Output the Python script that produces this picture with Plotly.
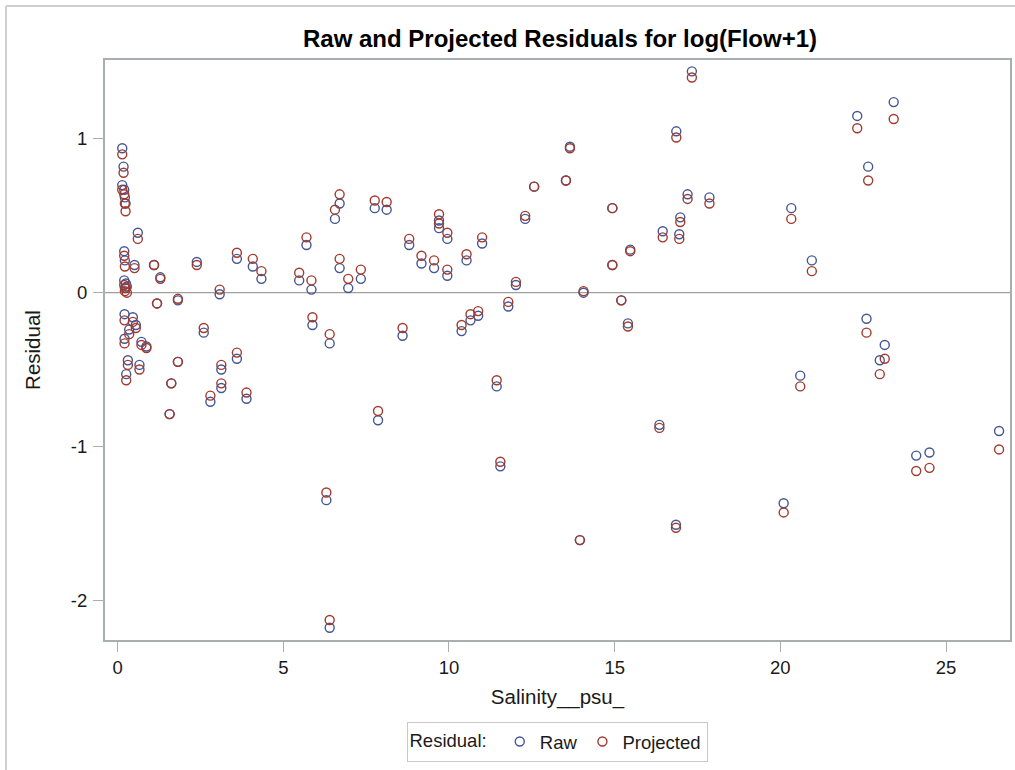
import plotly.graph_objects as go

salinity = [0.14, 0.18, 0.14, 0.20, 0.22, 0.24, 0.20, 0.22, 0.51, 0.61,
            0.20, 0.25, 0.28, 0.22, 1.10, 1.29, 2.39, 3.60, 4.08, 4.34,
            5.48, 3.08, 1.19, 1.82, 0.21, 0.46, 0.55, 0.35, 0.21, 0.72,
            0.87, 2.60, 1.82, 0.31, 0.66, 0.26, 3.13, 3.60, 1.62, 3.13,
            2.80, 3.89, 1.57,
            5.85, 5.70, 6.70, 6.56, 7.76, 8.12, 6.70, 6.96, 7.34, 5.88,
            6.40, 8.80, 9.17, 9.55, 9.70, 9.70, 9.95, 9.95, 8.60, 10.53,
            11.00, 10.38, 10.65, 10.88, 11.79, 12.02, 12.30, 11.44, 7.86, 6.30,
            6.40, 11.55, 12.57, 13.53, 13.65, 14.93, 14.93, 15.47, 14.06, 15.20,
            15.40, 13.95, 16.35, 16.85, 16.45, 16.98, 16.95, 17.20, 17.86, 17.33,
            16.86,
            20.33, 22.32, 23.42, 22.65, 20.95, 22.60, 23.15, 23.00, 20.60, 24.10,
            24.50, 26.60, 20.10]

raw = [0.94, 0.82, 0.70, 0.67, 0.62, 0.58, 0.27, 0.21, 0.18, 0.39,
       0.08, 0.06, 0.04, 0.03, 0.18, 0.10, 0.20, 0.22, 0.17, 0.09,
       0.08, -0.01, -0.07, -0.05, -0.14, -0.16, -0.21, -0.24, -0.30, -0.32,
       -0.35, -0.26, -0.45, -0.44, -0.47, -0.53, -0.50, -0.43, -0.59, -0.62,
       -0.71, -0.69, -0.79,
       0.02, 0.31, 0.58, 0.48, 0.55, 0.54, 0.16, 0.03, 0.09, -0.21,
       -0.33, 0.31, 0.19, 0.16, 0.47, 0.42, 0.35, 0.11, -0.28, 0.21,
       0.32, -0.25, -0.18, -0.15, -0.09, 0.05, 0.48, -0.61, -0.83, -1.35,
       -2.18, -1.13, 0.69, 0.73, 0.95, 0.55, 0.18, 0.28, 0.00, -0.05,
       -0.20, -1.61, -0.86, -1.51, 0.40, 0.49, 0.38, 0.64, 0.62, 1.44,
       1.05,
       0.55, 1.15, 1.24, 0.82, 0.21, -0.17, -0.34, -0.44, -0.54, -1.06,
       -1.04, -0.90, -1.37]

projected = [0.90, 0.78, 0.67, 0.64, 0.58, 0.53, 0.24, 0.17, 0.16, 0.35,
             0.05, 0.03, 0.00, 0.01, 0.18, 0.09, 0.18, 0.26, 0.22, 0.14,
             0.13, 0.02, -0.07, -0.04, -0.18, -0.19, -0.23, -0.27, -0.33, -0.34,
             -0.36, -0.23, -0.45, -0.47, -0.50, -0.57, -0.47, -0.39, -0.59, -0.59,
             -0.67, -0.65, -0.79,
             0.08, 0.36, 0.64, 0.54, 0.60, 0.59, 0.22, 0.09, 0.15, -0.16,
             -0.27, 0.35, 0.24, 0.21, 0.51, 0.45, 0.39, 0.15, -0.23, 0.25,
             0.36, -0.21, -0.14, -0.12, -0.06, 0.07, 0.50, -0.57, -0.77, -1.30,
             -2.13, -1.10, 0.69, 0.73, 0.94, 0.55, 0.18, 0.27, 0.01, -0.05,
             -0.22, -1.61, -0.88, -1.53, 0.36, 0.46, 0.35, 0.61, 0.58, 1.40,
             1.01,
             0.48, 1.07, 1.13, 0.73, 0.14, -0.26, -0.43, -0.53, -0.61, -1.16,
             -1.14, -1.02, -1.43]

x_ticks = [0, 5, 10, 15, 20, 25]
y_ticks = [-2, -1, 0, 1]

FONT = "Liberation Sans, Arial, sans-serif"
BLUE = "#445694"
RED = "#A23A2E"
AXIS = "#A9AEB1"
TXT = "#1a1a1a"

L, R, T, B = 105, 5, 60, 130
PW, PH = 1015 - L - R, 770 - T - B

fig = go.Figure()
fig.add_trace(go.Scatter(
    x=salinity, y=raw, mode="markers", name="Raw",
    marker=dict(symbol="circle-open", size=9, color=BLUE, line=dict(width=1.4, color=BLUE)),
))
fig.add_trace(go.Scatter(
    x=salinity, y=projected, mode="markers", name="Projected",
    marker=dict(symbol="circle-open", size=9, color=RED, line=dict(width=1.4, color=RED)),
))

# reference line at 0
fig.add_shape(type="line", xref="paper", yref="y", x0=0, x1=1, y0=0, y1=0,
              line=dict(color="#A0A0A0", width=1.3), layer="below")

# outer frame lines (top and left only visible)
fig.add_shape(type="line", xref="paper", yref="paper",
              x0=(6 - L) / PW, x1=(1020 - L) / PW,
              y0=1 + (T - 6) / PH, y1=1 + (T - 6) / PH,
              line=dict(color="#D0D0D0", width=2))
fig.add_shape(type="line", xref="paper", yref="paper",
              x0=(6 - L) / PW, x1=(6 - L) / PW,
              y0=1 + (T - 6) / PH, y1=(640 - 780) / PH,
              line=dict(color="#D0D0D0", width=2))

fig.update_layout(
    width=1015, height=770,
    margin=dict(l=L, r=R, t=T, b=B, autoexpand=False),
    paper_bgcolor="white", plot_bgcolor="white",
    font=dict(family=FONT, color=TXT, size=18),
    title=dict(text="<b>Raw and Projected Residuals for log(Flow+1)</b>",
               xref="container", x=560 / 1015, xanchor="center",
               yref="container", y=1 - 39 / 770, yanchor="middle",
               font=dict(family=FONT, size=24, color="#000000")),
    showlegend=True,
    legend=dict(
        orientation="h", x=(557 - L) / PW, xanchor="center",
        y=(640 - 722) / PH, yanchor="top",
        title=dict(text="Residual: ", side="left", font=dict(size=18.5, color=TXT)),
        bordercolor="#C8C8C8", borderwidth=1, bgcolor="white",
        font=dict(size=18.5, family=FONT, color=TXT), itemwidth=30,
    ),
)

fig.update_xaxes(
    range=[-0.38, 26.93], tickvals=x_ticks, ticktext=[str(t) for t in x_ticks],
    showgrid=False, zeroline=False, showline=True, linecolor=AXIS, linewidth=2,
    mirror=True, ticks="outside", ticklen=10, tickcolor=AXIS, tickwidth=1,
    ticklabelstandoff=0, automargin=False,
    tickfont=dict(size=18.5, color=TXT),
    title=dict(text="Salinity__psu_", font=dict(size=20.5, color=TXT), standoff=12),
)
fig.update_yaxes(
    range=[-2.26, 1.514], tickvals=y_ticks, ticktext=[str(t) for t in y_ticks],
    showgrid=False, zeroline=False, showline=True, linecolor=AXIS, linewidth=2,
    mirror=True, ticks="outside", ticklen=10, tickcolor=AXIS, tickwidth=1,
    ticklabelstandoff=2, automargin=False,
    tickfont=dict(size=18.5, color=TXT),
    title=dict(text="Residual", font=dict(size=20.5, color=TXT), standoff=25),
)

fig.write_html("out.html",
               config={"displayModeBar": False},
               post_script="document.body.style.margin='0';document.body.style.overflow='hidden';")
